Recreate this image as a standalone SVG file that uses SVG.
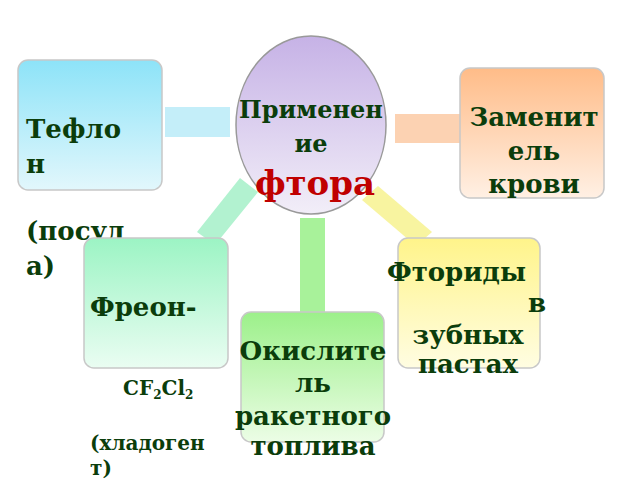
<svg xmlns="http://www.w3.org/2000/svg" width="640" height="480" viewBox="0 0 640 480">
<defs>
<linearGradient id="gB" x1="0" y1="0" x2="0" y2="1"><stop offset="0" stop-color="#8de3f8"/><stop offset="1" stop-color="#e2f7fc"/></linearGradient>
<linearGradient id="gP" x1="0" y1="0" x2="0" y2="1"><stop offset="0" stop-color="#c6b2e6"/><stop offset="1" stop-color="#f2eef8"/></linearGradient>
<linearGradient id="gO" x1="0" y1="0" x2="0" y2="1"><stop offset="0" stop-color="#ffbc88"/><stop offset="1" stop-color="#fff0e4"/></linearGradient>
<linearGradient id="gM" x1="0" y1="0" x2="0" y2="1"><stop offset="0" stop-color="#9cf4c4"/><stop offset="1" stop-color="#eafdf2"/></linearGradient>
<linearGradient id="gG" x1="0" y1="0" x2="0" y2="1"><stop offset="0" stop-color="#9cf08a"/><stop offset="1" stop-color="#ecfde6"/></linearGradient>
<linearGradient id="gY" x1="0" y1="0" x2="0" y2="1"><stop offset="0" stop-color="#fff48a"/><stop offset="1" stop-color="#fffde2"/></linearGradient>
</defs>
<style>
.box{stroke:#c8c8c8;stroke-width:1.5}
.t{font-family:"DejaVu Serif",serif;font-weight:bold;font-size:26px;fill:#0b3d0b}
.c{text-anchor:middle}
</style>
<rect width="640" height="480" fill="#fff"/>
<g id="connectors">
<rect x="165" y="107" width="65" height="30" fill="#c4eef9"/>
<rect x="395" y="114" width="65" height="29" fill="#fcd2b2"/>
<polygon points="240,178 258,192 215,245 197,232" fill="#b2f2d0"/>
<rect x="300" y="218" width="25" height="95" fill="#a8f29a"/>
<polygon points="362,200 378,186 432,232 416,246" fill="#f8f4a0"/>
</g>
<g id="teflon"><rect class="box" x="18" y="60" width="144" height="130" rx="10" fill="url(#gB)"/>
<text class="t" x="26" y="138">Тефло</text><text class="t" x="26" y="173">н</text>
<text class="t" x="26" y="240">(посуд</text><text class="t" x="26" y="275">а)</text></g>
<g id="center"><ellipse cx="311" cy="125" rx="75" ry="89" fill="url(#gP)" stroke="#999" stroke-width="1.5"/>
<text class="t c" x="311" y="118" style="font-size:24px">Применен</text><text class="t c" x="311" y="152" style="font-size:24px">ие</text>
<text class="t c" x="315" y="195" style="fill:#c00000;font-size:34px">фтора</text></g>
<g id="blood"><rect class="box" x="460" y="68" width="144" height="130" rx="10" fill="url(#gO)"/>
<text class="t c" x="534" y="126">Заменит</text><text class="t c" x="534" y="160">ель</text><text class="t c" x="534" y="193">крови</text></g>
<g id="freon"><rect class="box" x="84" y="238" width="144" height="130" rx="10" fill="url(#gM)"/>
<text class="t" x="90" y="316">Фреон-</text>
<text class="t" x="123" y="395" style="font-size:20px">CF<tspan dy="4" font-size="12">2</tspan><tspan dy="-4">Cl</tspan><tspan dy="4" font-size="12">2</tspan></text>
<text class="t" x="90" y="450" style="font-size:20px">(хладоген</text><text class="t" x="90" y="475" style="font-size:20px">т)</text></g>
<g id="oxidizer"><rect class="box" x="241" y="312" width="143" height="130" rx="10" fill="url(#gG)"/>
<text class="t c" x="313" y="360">Окислите</text><text class="t c" x="313" y="392">ль</text><text class="t c" x="313" y="425">ракетного</text><text class="t c" x="313" y="455">топлива</text></g>
<g id="fluoride"><rect class="box" x="398" y="238" width="142" height="130" rx="10" fill="url(#gY)"/>
<text class="t" x="387" y="281">Фториды</text><text class="t" x="528" y="312">в</text>
<text class="t c" x="468" y="344">зубных</text><text class="t c" x="468" y="373">пастах</text></g>
</svg>
